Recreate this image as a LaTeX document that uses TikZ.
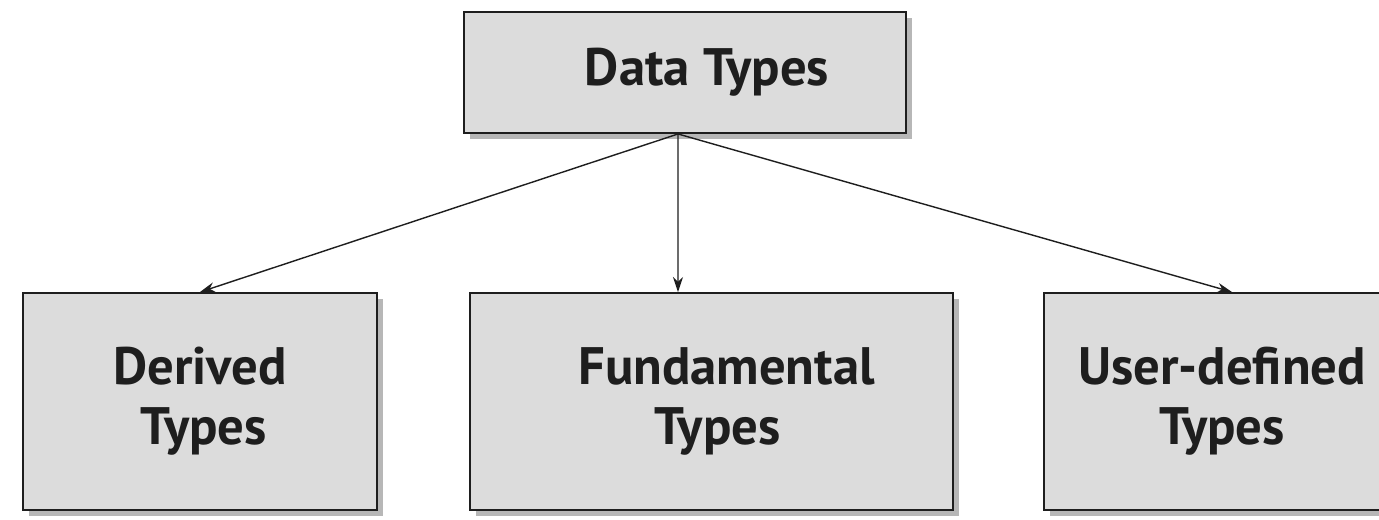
\documentclass[tikz,border=0pt]{standalone}
\usepackage{fontspec}
\setmainfont{PT Sans}
\usetikzlibrary{arrows, arrows.meta}
\usetikzlibrary{shadows}
\definecolor{boxgray}{HTML}{DCDCDC}
\definecolor{textdark}{HTML}{1E1E1E}
\tikzset{
  typebox/.style={rectangle, draw=textdark, line width=1.1pt, fill=boxgray,
    align=center, text=textdark, font=\bfseries\fontsize{30}{34}\selectfont,
    drop shadow={shadow xshift=0.12cm, shadow yshift=-0.12cm, opacity=0.4, fill=black!70}},
  typearrow/.style={-{Stealth[length=3mm, width=2mm]}, line width=0.8pt, textdark}
}
\begin{document}
\begin{tikzpicture}
      \clip (0,0) rectangle (27.58,-10.38);
      \fill[white] (0,0) rectangle (27.58,-10.38);

      \node[typebox, minimum width=8.84cm, minimum height=2.42cm] (types) at (13.70,-1.45) {\hspace*{0.88cm}Data Types};
      \node[typebox, minimum width=7.08cm, minimum height=4.34cm] (derived) at (4.00,-8.03) {Derived\\\hspace*{0.15cm}Types};
      \node[typebox, minimum width=9.66cm, minimum height=4.34cm] (fund) at (14.23,-8.03) {\hspace*{0.6cm}Fundamental\\\hspace*{0.24cm}Types};
      \node[typebox, minimum width=7.12cm, minimum height=4.34cm] (user) at (24.44,-8.03) {User-defined\\Types};

      \draw[typearrow] ([xshift=-1.4mm]types.south) -- (derived.north);
      \draw[typearrow] ([xshift=-1.4mm]types.south) -- ([xshift=-6.7mm]fund.north);
      \draw[typearrow] ([xshift=-1.4mm]types.south) -- ([xshift=2mm]user.north);
    \end{tikzpicture}
\end{document}
